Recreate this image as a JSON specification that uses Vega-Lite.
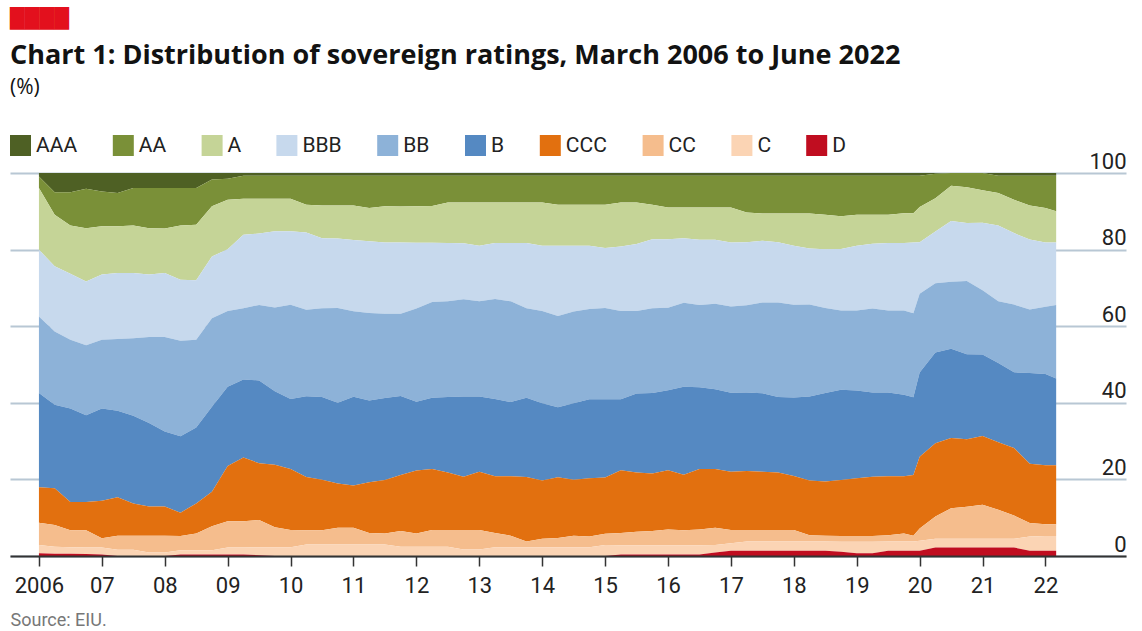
{
  "$schema": "https://vega.github.io/schema/vega-lite/v6.json",
  "width": 1116,
  "height": 383,
  "autosize": {"type": "none"},
  "padding": {"left": 10, "top": 173, "right": 16, "bottom": 75},
  "background": "white",
  "config": {"font": "Roboto", "view": {"stroke": null}},
  "title": {
    "text": "Chart 1: Distribution of sovereign ratings, March 2006 to June 2022",
    "subtitle": "(%)",
    "anchor": "start",
    "frame": "group",
    "font": "Open Sans",
    "fontSize": 27,
    "fontWeight": "bold",
    "color": "#121212",
    "subtitleFont": "Open Sans",
    "subtitleFontSize": 21,
    "subtitleColor": "#121212",
    "subtitlePadding": 7,
    "offset": -89
  },
  "data": {
    "values": [
      {"t": 2006.0, "AAA": 0.9, "AA": 3.0, "A": 16.1, "BBB": 17.4, "BB": 20.0, "B": 24.6, "CCC": 9.2, "CC": 5.8, "C": 2.2, "D": 0.7},
      {"t": 2006.25, "AAA": 5.0, "AA": 5.9, "A": 13.5, "BBB": 17.0, "BB": 19.2, "B": 21.8, "CCC": 9.6, "CC": 5.7, "C": 1.8, "D": 0.6},
      {"t": 2006.5, "AAA": 5.0, "AA": 8.7, "A": 12.6, "BBB": 17.2, "BB": 17.9, "B": 24.4, "CCC": 7.4, "CC": 4.4, "C": 1.7, "D": 0.6},
      {"t": 2006.75, "AAA": 4.1, "AA": 10.3, "A": 13.9, "BBB": 16.6, "BB": 18.2, "B": 22.6, "CCC": 7.4, "CC": 4.5, "C": 1.7, "D": 0.5},
      {"t": 2007.0, "AAA": 4.8, "AA": 9.1, "A": 12.6, "BBB": 17.0, "BB": 17.9, "B": 24.1, "CCC": 9.8, "CC": 2.4, "C": 1.8, "D": 0.4},
      {"t": 2007.25, "AAA": 5.2, "AA": 8.7, "A": 12.2, "BBB": 17.2, "BB": 18.7, "B": 22.6, "CCC": 10.0, "CC": 3.7, "C": 1.6, "D": 0},
      {"t": 2007.5, "AAA": 3.9, "AA": 9.8, "A": 12.4, "BBB": 17.0, "BB": 20.2, "B": 22.9, "CCC": 8.4, "CC": 3.7, "C": 1.6, "D": 0},
      {"t": 2007.75, "AAA": 3.9, "AA": 10.5, "A": 12.1, "BBB": 16.3, "BB": 22.5, "B": 21.8, "CCC": 7.6, "CC": 4.4, "C": 0.9, "D": 0},
      {"t": 2008.0, "AAA": 3.9, "AA": 10.6, "A": 11.6, "BBB": 16.7, "BB": 24.6, "B": 19.6, "CCC": 7.6, "CC": 4.4, "C": 0.9, "D": 0},
      {"t": 2008.25, "AAA": 3.9, "AA": 9.8, "A": 14.1, "BBB": 15.9, "BB": 24.9, "B": 19.9, "CCC": 6.1, "CC": 3.7, "C": 1.1, "D": 0.4},
      {"t": 2008.5, "AAA": 3.9, "AA": 9.6, "A": 14.5, "BBB": 15.5, "BB": 22.9, "B": 19.8, "CCC": 7.8, "CC": 4.4, "C": 1.1, "D": 0.4},
      {"t": 2008.75, "AAA": 1.7, "AA": 7.0, "A": 13.1, "BBB": 16.1, "BB": 23.1, "B": 22.2, "CCC": 9.0, "CC": 6.3, "C": 1.1, "D": 0.4},
      {"t": 2009.0, "AAA": 1.5, "AA": 5.5, "A": 12.9, "BBB": 16.1, "BB": 19.8, "B": 20.7, "CCC": 14.4, "CC": 6.9, "C": 1.8, "D": 0.4},
      {"t": 2009.25, "AAA": 0.7, "AA": 6.0, "A": 9.4, "BBB": 19.2, "BB": 18.6, "B": 20.4, "CCC": 16.6, "CC": 6.9, "C": 1.8, "D": 0.4},
      {"t": 2009.5, "AAA": 0.7, "AA": 6.0, "A": 9.1, "BBB": 18.6, "BB": 19.7, "B": 21.6, "CCC": 14.8, "CC": 7.1, "C": 2.1, "D": 0.2},
      {"t": 2009.75, "AAA": 0.7, "AA": 6.0, "A": 8.5, "BBB": 19.9, "BB": 21.9, "B": 19.2, "CCC": 16.3, "CC": 5.2, "C": 2.3, "D": 0},
      {"t": 2010.0, "AAA": 0.7, "AA": 6.0, "A": 8.5, "BBB": 19.2, "BB": 24.6, "B": 18.3, "CCC": 15.9, "CC": 4.5, "C": 2.3, "D": 0},
      {"t": 2010.25, "AAA": 0.7, "AA": 7.6, "A": 7.2, "BBB": 20.2, "BB": 22.5, "B": 21.1, "CCC": 13.9, "CC": 3.7, "C": 3.0, "D": 0},
      {"t": 2010.5, "AAA": 0.7, "AA": 7.8, "A": 8.5, "BBB": 18.3, "BB": 23.1, "B": 21.6, "CCC": 13.2, "CC": 3.7, "C": 3.0, "D": 0},
      {"t": 2010.75, "AAA": 0.7, "AA": 7.8, "A": 8.6, "BBB": 18.1, "BB": 24.7, "B": 21.1, "CCC": 11.5, "CC": 4.4, "C": 3.0, "D": 0},
      {"t": 2011.0, "AAA": 0.7, "AA": 7.8, "A": 9.0, "BBB": 18.6, "BB": 22.4, "B": 23.2, "CCC": 11.0, "CC": 4.4, "C": 3.0, "D": 0},
      {"t": 2011.25, "AAA": 0.7, "AA": 8.4, "A": 8.7, "BBB": 18.7, "BB": 22.8, "B": 21.3, "CCC": 13.2, "CC": 3.0, "C": 3.0, "D": 0},
      {"t": 2011.5, "AAA": 0.7, "AA": 8.0, "A": 9.4, "BBB": 18.6, "BB": 22.0, "B": 21.4, "CCC": 13.9, "CC": 2.9, "C": 3.0, "D": 0},
      {"t": 2011.75, "AAA": 0.7, "AA": 8.0, "A": 9.4, "BBB": 18.6, "BB": 21.4, "B": 20.6, "CCC": 14.6, "CC": 4.1, "C": 2.4, "D": 0},
      {"t": 2012.0, "AAA": 0.7, "AA": 8.0, "A": 9.5, "BBB": 17.2, "BB": 24.3, "B": 18.0, "CCC": 16.4, "CC": 3.5, "C": 2.4, "D": 0},
      {"t": 2012.25, "AAA": 0.7, "AA": 7.9, "A": 9.6, "BBB": 15.5, "BB": 25.0, "B": 18.6, "CCC": 15.9, "CC": 4.4, "C": 2.4, "D": 0},
      {"t": 2012.5, "AAA": 0.7, "AA": 7.0, "A": 10.6, "BBB": 15.2, "BB": 25.0, "B": 19.7, "CCC": 15.0, "CC": 4.4, "C": 2.4, "D": 0},
      {"t": 2012.75, "AAA": 0.7, "AA": 7.0, "A": 10.6, "BBB": 14.6, "BB": 25.4, "B": 20.9, "CCC": 13.9, "CC": 5.1, "C": 1.7, "D": 0},
      {"t": 2013.0, "AAA": 0.7, "AA": 7.0, "A": 11.3, "BBB": 14.5, "BB": 24.9, "B": 19.7, "CCC": 15.2, "CC": 5.1, "C": 1.7, "D": 0},
      {"t": 2013.25, "AAA": 0.7, "AA": 7.0, "A": 10.6, "BBB": 14.6, "BB": 26.1, "B": 20.2, "CCC": 14.8, "CC": 3.7, "C": 2.3, "D": 0},
      {"t": 2013.5, "AAA": 0.7, "AA": 7.0, "A": 10.6, "BBB": 15.2, "BB": 26.3, "B": 19.4, "CCC": 15.5, "CC": 3.0, "C": 2.3, "D": 0},
      {"t": 2013.75, "AAA": 0.7, "AA": 7.0, "A": 10.6, "BBB": 17.0, "BB": 23.4, "B": 20.7, "CCC": 16.8, "CC": 1.5, "C": 2.3, "D": 0},
      {"t": 2014.0, "AAA": 0.7, "AA": 7.0, "A": 11.3, "BBB": 17.0, "BB": 24.1, "B": 20.2, "CCC": 15.2, "CC": 2.2, "C": 2.3, "D": 0},
      {"t": 2014.25, "AAA": 0.7, "AA": 7.6, "A": 10.7, "BBB": 18.4, "BB": 23.9, "B": 18.3, "CCC": 15.9, "CC": 2.4, "C": 2.3, "D": 0},
      {"t": 2014.5, "AAA": 0.7, "AA": 7.6, "A": 10.7, "BBB": 17.2, "BB": 24.0, "B": 20.0, "CCC": 14.6, "CC": 3.0, "C": 2.3, "D": 0},
      {"t": 2014.75, "AAA": 0.7, "AA": 7.6, "A": 10.7, "BBB": 16.5, "BB": 23.6, "B": 20.6, "CCC": 15.2, "CC": 2.8, "C": 2.3, "D": 0},
      {"t": 2015.0, "AAA": 0.7, "AA": 7.6, "A": 11.3, "BBB": 15.7, "BB": 23.8, "B": 20.5, "CCC": 14.7, "CC": 2.9, "C": 2.9, "D": 0},
      {"t": 2015.25, "AAA": 0.7, "AA": 7.0, "A": 11.5, "BBB": 16.8, "BB": 23.1, "B": 18.5, "CCC": 16.4, "CC": 3.2, "C": 2.4, "D": 0.4},
      {"t": 2015.5, "AAA": 0.7, "AA": 7.0, "A": 10.8, "BBB": 17.5, "BB": 21.5, "B": 20.6, "CCC": 15.5, "CC": 3.5, "C": 2.4, "D": 0.4},
      {"t": 2015.75, "AAA": 0.7, "AA": 7.6, "A": 9.0, "BBB": 18.0, "BB": 22.1, "B": 21.0, "CCC": 15.0, "CC": 3.7, "C": 2.4, "D": 0.4},
      {"t": 2016.0, "AAA": 0.7, "AA": 8.3, "A": 8.3, "BBB": 17.9, "BB": 21.5, "B": 20.9, "CCC": 15.5, "CC": 4.1, "C": 2.4, "D": 0.4},
      {"t": 2016.25, "AAA": 0.7, "AA": 8.3, "A": 8.0, "BBB": 16.8, "BB": 21.9, "B": 22.9, "CCC": 14.5, "CC": 3.9, "C": 2.4, "D": 0.4},
      {"t": 2016.5, "AAA": 0.7, "AA": 8.3, "A": 8.4, "BBB": 17.0, "BB": 21.5, "B": 21.3, "CCC": 15.8, "CC": 4.1, "C": 2.4, "D": 0.4},
      {"t": 2016.75, "AAA": 0.7, "AA": 8.3, "A": 8.4, "BBB": 16.7, "BB": 22.3, "B": 20.8, "CCC": 15.3, "CC": 4.5, "C": 2.0, "D": 0.9},
      {"t": 2017.0, "AAA": 0.7, "AA": 8.3, "A": 9.1, "BBB": 16.7, "BB": 22.5, "B": 20.6, "CCC": 15.2, "CC": 3.5, "C": 1.9, "D": 1.4},
      {"t": 2017.25, "AAA": 0.7, "AA": 9.6, "A": 7.8, "BBB": 16.4, "BB": 22.8, "B": 20.5, "CCC": 15.4, "CC": 3.0, "C": 2.4, "D": 1.4},
      {"t": 2017.5, "AAA": 0.7, "AA": 9.9, "A": 7.1, "BBB": 16.1, "BB": 23.7, "B": 20.5, "CCC": 15.2, "CC": 3.0, "C": 2.4, "D": 1.4},
      {"t": 2017.75, "AAA": 0.7, "AA": 9.9, "A": 7.5, "BBB": 15.7, "BB": 24.7, "B": 19.7, "CCC": 15.0, "CC": 3.0, "C": 2.4, "D": 1.4},
      {"t": 2018.0, "AAA": 0.7, "AA": 9.9, "A": 8.4, "BBB": 15.4, "BB": 24.2, "B": 20.5, "CCC": 14.1, "CC": 3.0, "C": 2.4, "D": 1.4},
      {"t": 2018.25, "AAA": 0.7, "AA": 9.9, "A": 9.1, "BBB": 14.7, "BB": 24.0, "B": 22.0, "CCC": 14.3, "CC": 1.6, "C": 2.4, "D": 1.4},
      {"t": 2018.5, "AAA": 0.7, "AA": 10.2, "A": 9.0, "BBB": 15.4, "BB": 22.2, "B": 23.1, "CCC": 14.2, "CC": 1.5, "C": 2.4, "D": 1.4},
      {"t": 2018.75, "AAA": 0.7, "AA": 10.6, "A": 8.5, "BBB": 16.0, "BB": 20.7, "B": 23.5, "CCC": 14.6, "CC": 1.5, "C": 2.6, "D": 1.1},
      {"t": 2019.0, "AAA": 0.7, "AA": 10.2, "A": 8.1, "BBB": 16.9, "BB": 20.9, "B": 22.9, "CCC": 15.1, "CC": 1.5, "C": 3.0, "D": 0.7},
      {"t": 2019.25, "AAA": 0.7, "AA": 10.2, "A": 7.6, "BBB": 16.9, "BB": 21.9, "B": 22.0, "CCC": 15.5, "CC": 1.5, "C": 3.0, "D": 0.7},
      {"t": 2019.5, "AAA": 0.7, "AA": 10.2, "A": 7.4, "BBB": 17.6, "BB": 21.4, "B": 21.9, "CCC": 15.4, "CC": 1.6, "C": 2.4, "D": 1.4},
      {"t": 2019.75, "AAA": 0.7, "AA": 9.8, "A": 7.8, "BBB": 17.6, "BB": 22.0, "B": 21.3, "CCC": 14.9, "CC": 2.1, "C": 2.4, "D": 1.4},
      {"t": 2019.9, "AAA": 0.7, "AA": 9.8, "A": 7.7, "BBB": 18.5, "BB": 22.0, "B": 20.3, "CCC": 15.9, "CC": 1.5, "C": 2.4, "D": 1.4},
      {"t": 2020.0, "AAA": 0.7, "AA": 8.2, "A": 9.2, "BBB": 13.4, "BB": 20.6, "B": 22.0, "CCC": 18.7, "CC": 3.2, "C": 2.6, "D": 1.4},
      {"t": 2020.25, "AAA": 0.2, "AA": 6.4, "A": 8.7, "BBB": 13.5, "BB": 18.1, "B": 23.7, "CCC": 19.2, "CC": 5.8, "C": 2.3, "D": 2.2},
      {"t": 2020.5, "AAA": 0, "AA": 3.3, "A": 9.2, "BBB": 15.9, "BB": 17.5, "B": 23.3, "CCC": 18.3, "CC": 8.0, "C": 2.3, "D": 2.2},
      {"t": 2020.75, "AAA": 0, "AA": 3.7, "A": 9.4, "BBB": 15.1, "BB": 19.2, "B": 22.2, "CCC": 17.6, "CC": 8.4, "C": 2.3, "D": 2.2},
      {"t": 2021.0, "AAA": 0, "AA": 4.5, "A": 8.5, "BBB": 17.6, "BB": 16.8, "B": 21.3, "CCC": 17.9, "CC": 8.9, "C": 2.3, "D": 2.2},
      {"t": 2021.25, "AAA": 0.7, "AA": 4.5, "A": 8.5, "BBB": 19.8, "BB": 16.1, "B": 20.7, "CCC": 17.6, "CC": 7.6, "C": 2.3, "D": 2.2},
      {"t": 2021.5, "AAA": 0.7, "AA": 6.3, "A": 8.7, "BBB": 18.7, "BB": 17.7, "B": 19.8, "CCC": 17.6, "CC": 6.1, "C": 2.3, "D": 2.2},
      {"t": 2021.75, "AAA": 0.7, "AA": 7.8, "A": 8.9, "BBB": 18.3, "BB": 16.6, "B": 23.7, "CCC": 15.5, "CC": 3.5, "C": 3.7, "D": 1.4},
      {"t": 2022.0, "AAA": 0.7, "AA": 8.4, "A": 9.0, "BBB": 16.8, "BB": 17.5, "B": 23.8, "CCC": 15.4, "CC": 3.1, "C": 3.8, "D": 1.4},
      {"t": 2022.17, "AAA": 0.7, "AA": 9.3, "A": 8.1, "BBB": 16.3, "BB": 19.2, "B": 22.6, "CCC": 15.4, "CC": 3.1, "C": 3.8, "D": 1.4}
    ]
  },
  "transform": [
    {"fold": ["AAA", "AA", "A", "BBB", "BB", "B", "CCC", "CC", "C", "D"], "as": ["rating", "pct"]},
    {
      "lookup": "rating",
      "from": {
        "data": {"values": [
          {"rating": "D", "rank": 1}, {"rating": "C", "rank": 2}, {"rating": "CC", "rank": 3},
          {"rating": "CCC", "rank": 4}, {"rating": "B", "rank": 5}, {"rating": "BB", "rank": 6},
          {"rating": "BBB", "rank": 7}, {"rating": "A", "rank": 8}, {"rating": "AA", "rank": 9},
          {"rating": "AAA", "rank": 10}
        ]},
        "key": "rating",
        "fields": ["rank"]
      }
    }
  ],
  "mark": {"type": "area", "interpolate": "linear"},
  "encoding": {
    "x": {
      "field": "t",
      "type": "quantitative",
      "scale": {"domain": [2005.54, 2023.28], "nice": false, "zero": false},
      "axis": {
        "values": [2006, 2007, 2008, 2009, 2010, 2011, 2012, 2013, 2014, 2015, 2016, 2017, 2018, 2019, 2020, 2021, 2022],
        "labelExpr": "datum.value == 2006 ? '2006' : substring(toString(datum.value), 2, 4)",
        "grid": false,
        "domainColor": "#333333",
        "domainWidth": 2,
        "tickColor": "#333333",
        "tickSize": 10,
        "tickWidth": 1.5,
        "labelFont": "Roboto",
        "labelFontSize": 22,
        "labelColor": "#222222",
        "labelPadding": 9,
        "labelFlush": false,
        "labelOverlap": false,
        "title": "Source: EIU.",
        "titleFont": "Roboto",
        "titleFontSize": 18,
        "titleFontWeight": "normal",
        "titleColor": "#777777",
        "titleAnchor": "start",
        "titleAlign": "left",
        "titleBaseline": "alphabetic",
        "titleX": 0,
        "titleY": 69,
        "zindex": 1
      }
    },
    "y": {
      "field": "pct",
      "type": "quantitative",
      "stack": "normalize",
      "scale": {"domain": [0, 1], "nice": false},
      "axis": {
        "orient": "right",
        "values": [0, 0.2, 0.4, 0.6, 0.8, 1],
        "labelExpr": "toString(round(datum.value * 100))",
        "grid": true,
        "gridColor": "#b8c7d4",
        "gridWidth": 2,
        "domain": false,
        "ticks": false,
        "tickSize": 0,
        "labelAlign": "right",
        "labelBaseline": "alphabetic",
        "labelPadding": 0,
        "labelOffset": -5,
        "labelFont": "Roboto",
        "labelFontSize": 22,
        "labelColor": "#222222",
        "labelFlush": false,
        "labelOverlap": false,
        "title": "████",
        "titleColor": "#e3101d",
        "titleFont": "DejaVu Sans",
        "titleFontSize": 19.2,
        "titleFontWeight": "normal",
        "titleAngle": 0,
        "titleAlign": "left",
        "titleBaseline": "top",
        "titleX": -1116.5,
        "titleY": -163.5,
        "zindex": 0
      }
    },
    "color": {
      "field": "rating",
      "type": "nominal",
      "scale": {
        "domain": ["AAA", "AA", "A", "BBB", "BB", "B", "CCC", "CC", "C", "D"],
        "range": ["#4e6024", "#7a9038", "#c5d497", "#c7d9ed", "#8db2d8", "#5589c2", "#e2700f", "#f5bd8d", "#fbd4b4", "#c00d20"]
      },
      "legend": {
        "orient": "none",
        "legendX": 0,
        "legendY": -38,
        "direction": "horizontal",
        "title": null,
        "symbolType": "square",
        "symbolSize": 441,
        "symbolStrokeWidth": 0,
        "symbolOpacity": 1,
        "labelFont": "Roboto",
        "labelFontSize": 21,
        "labelColor": "#222222",
        "labelOffset": 5,
        "columnPadding": 34.8
      }
    },
    "order": {"field": "rank", "type": "quantitative", "sort": "ascending"}
  }
}
